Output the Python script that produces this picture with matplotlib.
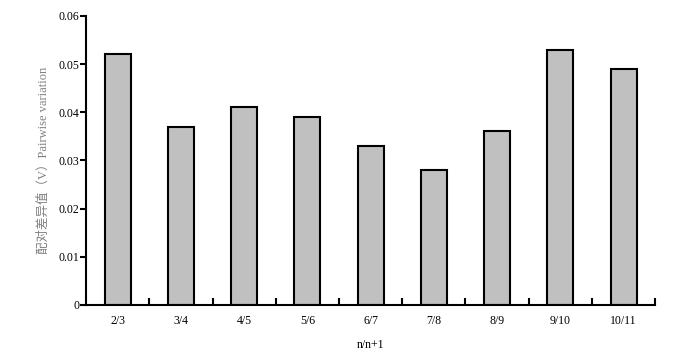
import matplotlib
matplotlib.use("Agg")
import matplotlib.pyplot as plt
import numpy as np

categories = ["2/3", "3/4", "4/5", "5/6", "6/7", "7/8", "8/9", "9/10", "10/11"]
values = [0.052, 0.037, 0.041, 0.039, 0.033, 0.028, 0.036, 0.053, 0.049]
yticks = [0, 0.01, 0.02, 0.03, 0.04, 0.05, 0.06]
ytick_labels = ["0", "0.01", "0.02", "0.03", "0.04", "0.05", "0.06"]

plt.rcParams['font.family'] = ['Liberation Serif', 'Noto Sans CJK SC']

fig = plt.figure(figsize=(7, 3.6), dpi=100)
ax = fig.add_axes([0.123, 0.153, 0.813, 0.803])

x = np.arange(len(categories))
ax.bar(x, values, width=0.41, color="#c0c0c0", edgecolor="black", linewidth=1.5)

ax.set_xlim(-0.5, len(categories) - 0.5)
ax.set_ylim(0, 0.06)
ax.set_yticks(yticks)
ax.set_yticklabels(ytick_labels, fontsize=8.5)
ax.set_xticks(x)
ax.set_xticklabels(categories, fontsize=8.5)
ax.tick_params(axis='x', which='major', length=0, pad=7)
ax.set_xticks(np.arange(0.5, len(categories) + 0.5, 1.0), minor=True)
ax.tick_params(axis='x', which='minor', direction='in', length=5, width=1.5)
ax.tick_params(axis='y', direction='out', length=4, width=1.5, pad=1)

for s in ['top', 'right']:
    ax.spines[s].set_visible(False)
for s in ['left', 'bottom']:
    ax.spines[s].set_linewidth(1.5)

ax.set_xlabel("n/n+1", fontsize=8.5, labelpad=9)
ax.set_ylabel("配对差异值（V）Pairwise variation", fontsize=9, color="#808080")
ax.yaxis.set_label_coords(-0.063, 0.5)

fig.savefig("out.png", dpi=100)
